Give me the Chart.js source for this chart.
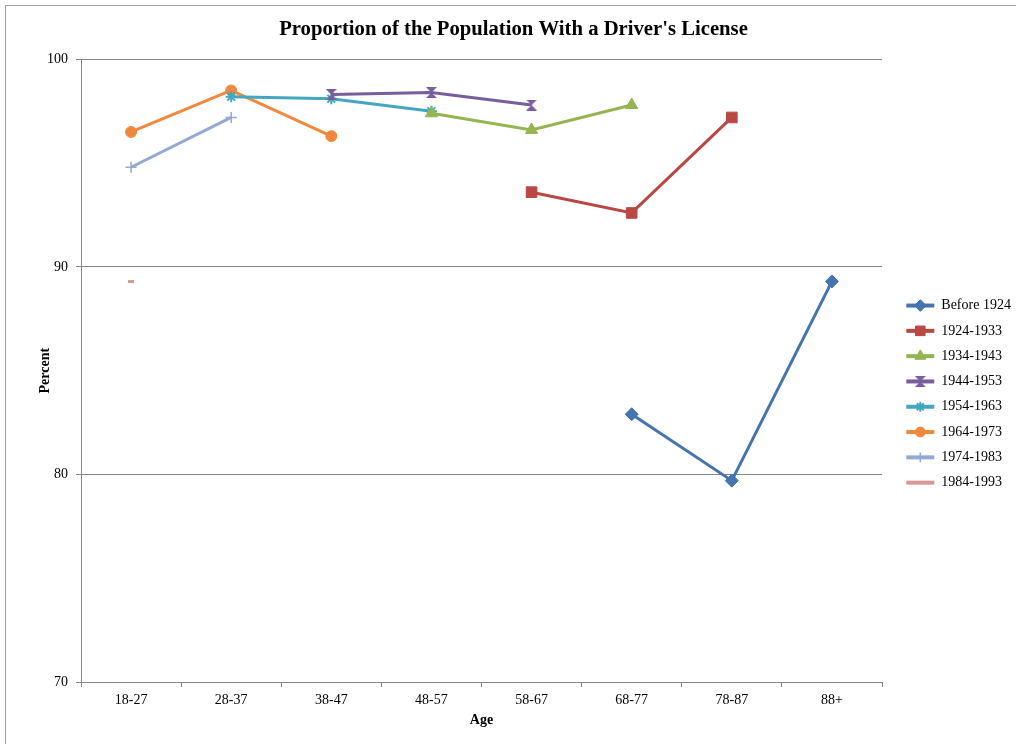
<!DOCTYPE html>
<html>
<head>
<meta charset="utf-8">
<script src="https://cdn.jsdelivr.net/npm/chart.js@4/dist/chart.umd.min.js"></script>
<style>
  html, body { margin: 0; padding: 0; overflow: hidden; background: #fff; }
  #frame { position: absolute; left: 5px; top: 5px; width: 2000px; height: 2000px; border: 1px solid #a0a0a0; }
  #predictionChart { position: absolute; left: 0; top: 0; }
</style>
</head>
<body>
<div id="frame"></div>
<canvas id="predictionChart" width="1016" height="744"></canvas>
<script>
// Age groups along the x axis
const ageGroups = ['18-27', '28-37', '38-47', '48-57', '58-67', '68-77', '78-87', '88+'];

// Percent with a driver's license, one list per birth cohort
const before1924 = [null, null, null, null, null, 82.9, 79.7, 89.3];
const born1924 = [null, null, null, null, 93.6, 92.6, 97.2, null];
const born1934 = [null, null, null, 97.4, 96.6, 97.8, null, null];
const born1944 = [null, null, 98.3, 98.4, 97.8, null, null, null];
const born1954 = [null, 98.2, 98.1, 97.5, null, null, null, null];
const born1964 = [96.5, 98.5, 96.3, null, null, null, null, null];
const born1974 = [94.8, 97.2, null, null, null, null, null, null];
const born1984 = [89.3, null, null, null, null, null, null, null];

const yTicks = [70, 80, 90, 100];

// hourglass marker like the Excel one
function hourglass(color, size) {
    const c = document.createElement('canvas');
    c.width = size;
    c.height = size;
    const g = c.getContext('2d');
    g.fillStyle = color;
    g.beginPath();
    g.moveTo(0, 0);
    g.lineTo(size, 0);
    g.lineTo(0, size);
    g.lineTo(size, size);
    g.closePath();
    g.fill();
    return c;
}

function series(label, data, color, style, radius, pbw) {
    return {
        label: label,
        data: data,
        yAxisID: 'y',
        borderColor: color,
        backgroundColor: color,
        borderWidth: 3,
        pointStyle: style,
        pointRadius: radius,
        pointHoverRadius: radius,
        pointBorderWidth: pbw,
        pointBorderColor: color,
        pointBackgroundColor: color,
        fill: false,
        tension: 0,
    };
}

const chartData = {
    labels: ageGroups,
    datasets: [
        series('Before 1924', before1924, '#4674AE', 'rectRot', 6.5, 1),
        series('1924-1933', born1924, '#B94744', 'rect', 7.5, 1),
        series('1934-1943', born1934, '#94B552', 'triangle', 7, 1),
        series('1944-1953', born1944, '#7A5D9C', hourglass('#7A5D9C', 11), 6, 1),
        series('1954-1963', born1954, '#44A6C0', 'star', 5.5, 2),
        series('1964-1973', born1964, '#F0893E', 'circle', 5.5, 1),
        series('1974-1983', born1974, '#93A9D3', 'cross', 5.5, 1.5),
        series('1984-1993', born1984, '#D99795', 'line', 3, 3),
    ],
};

// put the series marker on top of each legend line, and fix the legend width
const legendMarkers = {
    id: 'legendMarkers',
    beforeLayout(chart) {
        const lg = chart.legend;
        if (lg && !lg._fixedWidth) {
            const fit = lg.fit;
            lg.fit = function () {
                fit.call(this);
                this.width = 121;
            };
            lg._fixedWidth = true;
        }
    },
    afterDraw(chart) {
        const lg = chart.legend;
        if (!lg || !lg.legendHitBoxes) return;
        const ctx = chart.ctx;
        lg.legendItems.forEach((item, i) => {
            const hb = lg.legendHitBoxes[i];
            const ds = chart.data.datasets[item.datasetIndex];
            const x = hb.left + 14;
            const y = hb.top + 7;
            ctx.save();
            ctx.fillStyle = ds.pointBackgroundColor;
            ctx.strokeStyle = ds.pointBorderColor;
            ctx.lineWidth = ds.pointBorderWidth;
            Chart.helpers.drawPoint(ctx, { pointStyle: ds.pointStyle, radius: ds.pointRadius * 0.9, rotation: 0, borderWidth: ds.pointBorderWidth }, x, y);
            ctx.restore();
        });
    }
};

const serif = 'Liberation Serif';

const ctx = document.getElementById('predictionChart').getContext('2d');
new Chart(ctx, {
    type: 'line',
    data: chartData,
    plugins: [legendMarkers],
    options: {
        responsive: false,
        animation: false,
        layout: { padding: { left: 11, right: 0, top: 8, bottom: 13 } },
        plugins: {
            title: {
                display: true,
                text: "Proportion of the Population With a Driver's License",
                color: '#000',
                font: { family: serif, size: 20.7, weight: 'bold' },
                padding: { top: 9, bottom: 17.5 },
            },
            legend: {
                position: 'right',
                title: { display: true, text: ' ', font: { size: 1 }, padding: { top: 24, bottom: 24 } },
                labels: {
                    color: '#000',
                    font: { family: serif, size: 14 },
                    boxWidth: 28,
                    boxHeight: 4,
                    padding: 11.3,
                    generateLabels(chart) {
                        return Chart.defaults.plugins.legend.labels.generateLabels(chart)
                            .map(l => Object.assign(l, { lineWidth: 0 }));
                    },
                },
            },
            tooltip: { enabled: false },
        },
        scales: {
            x: {
                offset: true,
                grid: { display: true, drawOnChartArea: false, offset: true, tickLength: 5, color: '#868686' },
                border: { color: '#868686' },
                ticks: { color: '#000', font: { family: serif, size: 14 }, padding: 5, maxRotation: 0 },
                title: {
                    display: true,
                    text: 'Age',
                    color: '#000',
                    font: { family: serif, size: 14, weight: 'bold' },
                    padding: { top: 0, bottom: 2 },
                },
                afterFit(scale) { scale.height = 49; },
            },
            y: {
                min: 70,
                max: 100,
                afterBuildTicks(scale) { scale.ticks = yTicks.map(v => ({ value: v })); },
                grid: { color: '#868686', tickLength: 5 },
                border: { color: '#868686' },
                ticks: { color: '#000', font: { family: serif, size: 14 }, padding: 8 },
                title: {
                    display: true,
                    text: 'Percent',
                    color: '#000',
                    font: { family: serif, size: 14, weight: 'bold' },
                    padding: { top: 26, bottom: 0 },
                },
                afterFit(scale) { scale.width = 70; },
            },
            // empty spacer between the plot and the legend
            gap: {
                position: 'right',
                display: true,
                min: 70,
                max: 100,
                grid: { display: false },
                border: { display: false },
                ticks: { display: false },
                afterFit(scale) { scale.width = 13; },
            },
        },
    },
});
</script>
</body>
</html>
